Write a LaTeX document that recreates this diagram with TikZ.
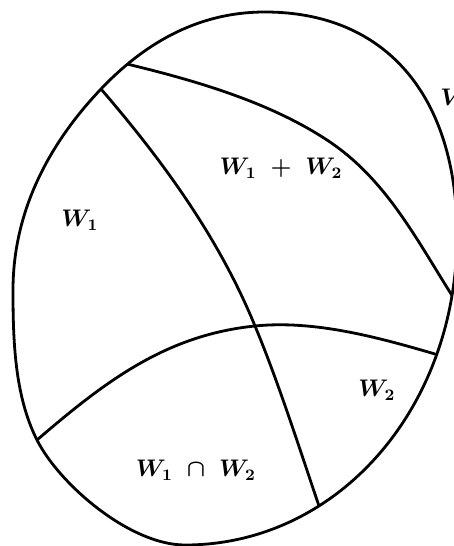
\documentclass[tikz,border=0pt]{standalone}
\begin{document}
\begin{tikzpicture}[x=0.5pt,y=-0.5pt,
  curve/.style={line width=1.4pt, line join=round, line cap=round},
  lab/.style={font=\large\boldmath, inner sep=0pt}]
\useasboundingbox (0,0) rectangle (454,546);
\clip (0,0) rectangle (454,546);
% key points
\coordinate (P1) at (265,12);
\coordinate (P2) at (457,235);
\coordinate (P3) at (185,545);
\coordinate (P4) at (13,290);
\coordinate (A) at (101,89);
\coordinate (B) at (127,64);
\coordinate (M) at (327,140);
\coordinate (C) at (453,297);
\coordinate (D) at (319,506);
\coordinate (E) at (37,440);
\coordinate (F) at (435,354);
\coordinate (I) at (255,326);
\def\OvalPath{(P1) .. controls (385,12) and (457,95) .. (P2)
  .. controls (457,409) and (337,545) .. (P3)
  .. controls (130,545) and (59.5,484.5) .. (E)
  .. controls (14.5,395.5) and (13,340) .. (P4)
  .. controls (13,200) and (60,132) .. (A)
  .. controls (142,46) and (195,12) .. (P1) -- cycle}
\begin{scope}
  \clip \OvalPath;
  % boundary of W1
  \draw[curve] (A) .. controls (163,161) and (219,238) .. (I)
                   .. controls (278,381) and (300,450) .. (D);
  % boundary of W1 + W2
  \draw[curve] (B) .. controls (195,80.5) and (268.5,101.6) .. (M)
                   .. controls (385.5,178.4) and (415.5,237.8) .. (C);
  % boundary of W2
  \draw[curve] (E) .. controls (105,381.5) and (166,335) .. (I)
                   .. controls (314,320) and (377,337) .. (F);
\end{scope}
% outer oval V
\draw[curve] \OvalPath;
% labels
\node[lab] (w1) at (80,220) {$W_1$};
\node[lab] (w12) at (281,168) {$W_1 \;+\; W_2$};
\node[lab] (w2) at (377,390) {$W_2$};
\node[lab] (wcap) at (196,470) {$W_1 \;\cap\; W_2$};
\node[lab, anchor=west] (v) at (440,97) {$V$};
\end{tikzpicture}
\end{document}
